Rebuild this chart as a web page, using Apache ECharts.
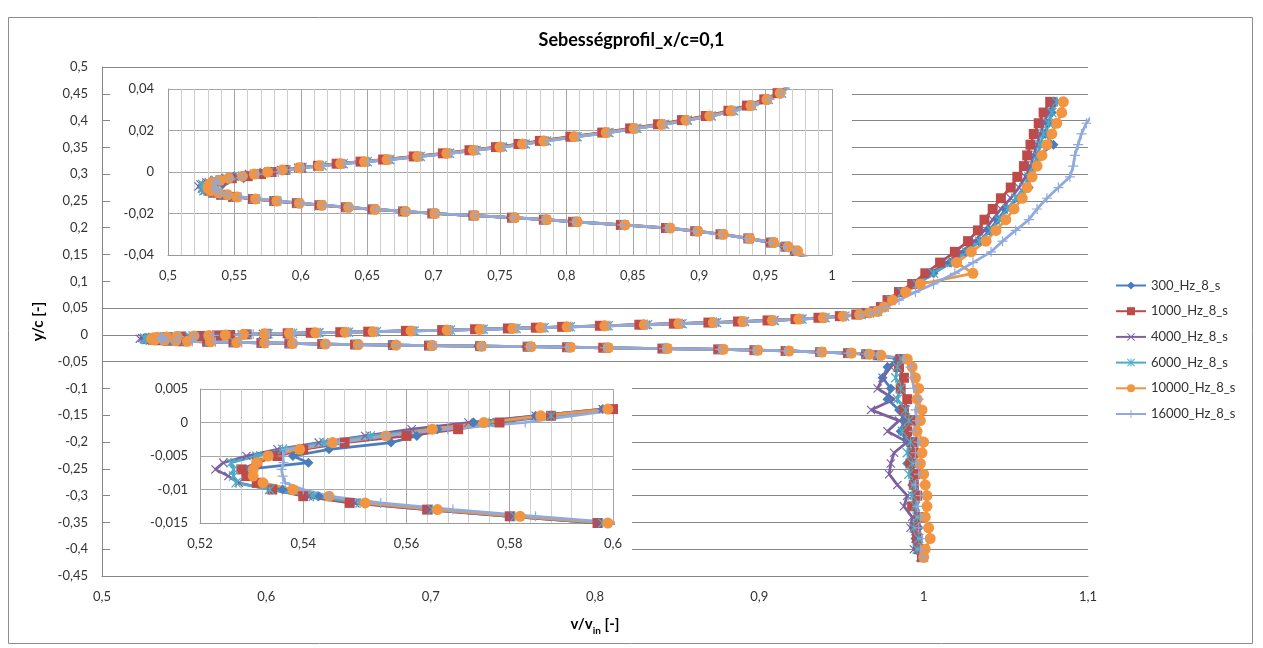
<!DOCTYPE html>
<html><head><meta charset="utf-8">
<script src="https://cdn.jsdelivr.net/npm/echarts@6/dist/echarts.min.js"></script>
<style>html,body{margin:0;padding:0;background:#fff}#c{width:1263px;height:648px}</style>
</head><body><div id="c"></div>
<script>
// traverse positions y/c (shared by all runs)
const yPos = [
0.435,0.415,0.395,0.375,0.355,0.335,0.315,0.295,0.275,0.255,0.235,0.215,0.195,0.175,0.155,0.135,0.115,0.095,0.08,0.065,0.052,
0.044,0.041,0.038,0.035,0.032,0.0295,0.027,0.025,0.023,0.021,0.019,0.017,0.015,0.0135,0.012,0.0105,0.009,0.0075,0.006,0.005,0.004,0.003,0.002,0.001,0,-0.001,-0.002,-0.003,-0.004,-0.005,-0.006,-0.007,
-0.008,-0.009,-0.01,-0.011,-0.012,-0.013,-0.014,-0.015,-0.016,-0.017,-0.018,-0.019,-0.02,-0.021,-0.022,-0.023,-0.024,-0.0255,-0.027,-0.0285,-0.03,-0.032,-0.034,-0.036,-0.038,
-0.045,-0.06,-0.08,-0.1,-0.12,-0.14,-0.16,-0.18,-0.2,-0.22,-0.24,-0.26,-0.28,-0.3,-0.32,-0.34,-0.36,-0.38,-0.4,-0.415];

const v300 = [
1.080,1.078,1.076,1.074,1.079,1.070,1.067,1.064,1.064,1.058,1.050,1.045,1.040,1.034,1.026,1.016,1.006,0.996,0.988,0.980,0.975,
0.971,0.966,0.960,0.951,0.938,0.924,0.907,0.889,0.870,0.850,0.829,0.805,0.781,0.766,0.748,0.729,0.709,0.687,0.663,0.647,0.628,0.613,0.598,0.585,0.573,0.566,0.562,0.557,0.545,0.538,0.541,0.529,
0.530,0.532,0.536,0.543,0.552,0.566,0.582,0.599,0.616,0.636,0.656,0.679,0.701,0.729,0.758,0.783,0.806,0.842,0.876,0.897,0.916,0.936,0.953,0.964,0.971,
0.984,0.978,0.975,0.980,0.978,0.985,0.988,0.986,0.990,0.992,0.990,0.994,0.993,0.995,0.994,0.996,0.997,0.995,0.996,0.999];
const v1000 = [
1.077,1.073,1.070,1.067,1.065,1.063,1.061,1.057,1.053,1.047,1.042,1.037,1.033,1.027,1.019,1.010,1.001,0.993,0.985,0.978,0.974,
0.970,0.965,0.959,0.949,0.936,0.922,0.905,0.887,0.869,0.848,0.827,0.803,0.780,0.764,0.747,0.727,0.707,0.685,0.662,0.645,0.627,0.613,0.600,0.588,0.578,0.570,0.560,0.548,0.540,0.535,0.531,0.528,
0.529,0.531,0.534,0.540,0.549,0.564,0.580,0.597,0.614,0.634,0.654,0.677,0.699,0.730,0.759,0.783,0.805,0.841,0.875,0.897,0.916,0.937,0.954,0.965,0.972,
0.986,0.985,0.988,0.986,0.990,0.988,0.992,0.990,0.993,0.994,0.992,0.995,0.994,0.996,0.993,0.997,0.995,0.996,0.997,0.999];
const v4000 = [
1.079,1.076,1.073,1.071,1.069,1.067,1.065,1.062,1.058,1.053,1.047,1.042,1.037,1.031,1.023,1.014,1.004,0.994,0.986,0.979,0.975,
0.971,0.966,0.961,0.951,0.939,0.925,0.909,0.891,0.873,0.852,0.831,0.807,0.784,0.768,0.751,0.731,0.711,0.689,0.666,0.649,0.631,0.613,0.598,0.585,0.572,0.561,0.552,0.543,0.535,0.529,0.5245,0.523,
0.5255,0.5275,0.5335,0.541,0.550,0.564,0.580,0.597,0.614,0.635,0.655,0.678,0.701,0.731,0.761,0.785,0.808,0.844,0.878,0.899,0.918,0.938,0.956,0.966,0.973,
0.985,0.980,0.975,0.972,0.982,0.968,0.985,0.978,0.990,0.982,0.980,0.979,0.984,0.990,0.988,0.993,0.992,0.995,0.994,0.998];
const v6000 = [
1.081,1.078,1.076,1.073,1.071,1.069,1.067,1.064,1.061,1.056,1.051,1.046,1.041,1.034,1.026,1.017,1.006,0.996,0.987,0.980,0.976,
0.972,0.967,0.962,0.952,0.940,0.926,0.909,0.891,0.874,0.853,0.832,0.808,0.785,0.769,0.752,0.732,0.712,0.690,0.667,0.650,0.632,0.616,0.601,0.588,0.576,0.565,0.553,0.544,0.536,0.531,0.526,0.5265,
0.5265,0.527,0.5335,0.542,0.551,0.565,0.581,0.598,0.615,0.635,0.655,0.677,0.700,0.730,0.760,0.784,0.807,0.843,0.877,0.898,0.917,0.937,0.955,0.965,0.972,
0.987,0.984,0.983,0.986,0.984,0.989,0.991,0.987,0.992,0.990,0.993,0.991,0.994,0.993,0.995,0.996,0.994,0.997,0.996,1.000];
const v10000 = [
1.085,1.084,1.081,1.078,1.075,1.072,1.069,1.066,1.063,1.060,1.055,1.050,1.044,1.038,1.029,1.020,1.030,0.998,0.989,0.981,0.976,
0.972,0.967,0.961,0.951,0.939,0.924,0.908,0.890,0.872,0.851,0.830,0.806,0.783,0.767,0.750,0.730,0.710,0.688,0.665,0.648,0.630,0.614,0.599,0.586,0.575,0.565,0.556,0.5457,0.5393,0.5332,0.531,0.5303,
0.5303,0.5322,0.538,0.545,0.552,0.566,0.582,0.599,0.616,0.636,0.656,0.679,0.701,0.731,0.761,0.785,0.808,0.844,0.878,0.899,0.918,0.938,0.956,0.967,0.974,
0.990,0.993,0.995,0.997,0.996,0.999,0.998,0.996,1.000,0.999,0.998,1.000,1.001,1.002,1.002,1.001,1.003,1.004,1.001,1.000];
const v16000 = [
1.120,1.104,1.099,1.096,1.094,1.092,1.091,1.089,1.082,1.075,1.069,1.064,1.056,1.048,1.041,1.030,1.019,1.006,0.995,0.985,0.977,
0.973,0.968,0.962,0.953,0.941,0.927,0.910,0.892,0.874,0.853,0.832,0.809,0.786,0.770,0.753,0.733,0.713,0.691,0.668,0.651,0.633,0.617,0.602,0.592,0.583,0.568,0.556,0.547,0.5367,0.536,0.5362,0.5358,
0.536,0.5365,0.540,0.545,0.555,0.569,0.585,0.601,0.618,0.637,0.657,0.680,0.702,0.731,0.760,0.783,0.806,0.842,0.876,0.897,0.916,0.936,0.954,0.965,0.972,
0.988,0.992,0.993,0.994,0.997,0.995,0.996,0.994,0.997,0.995,0.996,0.997,0.995,0.998,0.996,0.998,0.997,0.999,0.998,1.000];

const seriesNames = ['300_Hz_8_s','1000_Hz_8_s','4000_Hz_8_s','6000_Hz_8_s','10000_Hz_8_s','16000_Hz_8_s'];
const seriesValues = [v300, v1000, v4000, v6000, v10000, v16000];

// axis ticks [min, max, step]
const mainXTicks = [0.5, 1.1, 0.1];
const mainYTicks = [-0.45, 0.5, 0.05];
const inset1XTicks = [0.5, 1, 0.05];
const inset1YTicks = [-0.04, 0.04, 0.02];
const inset2XTicks = [0.52, 0.6, 0.02];
const inset2YTicks = [-0.015, 0.005, 0.005];

const FONT = 'Lato, "Liberation Sans", sans-serif';
const colors = ['#4A7EBB','#BE4B48','#7D60A0','#4BACC6','#F39440','#8FAADC'];
const X_PATH = 'path://M0,0.9L0.9,0L5,4.1L9.1,0L10,0.9L5.9,5L10,9.1L9.1,10L5,5.9L0.9,10L0,9.1L4.1,5Z';
const STAR_PATH = 'path://M0,0.9L0.9,0L5,4.1L9.1,0L10,0.9L5.9,5L10,9.1L9.1,10L5,5.9L0.9,10L0,9.1L4.1,5Z M4.4,0L5.6,0L5.6,10L4.4,10Z';
const PLUS_PATH = 'path://M4.4,0H5.6V4.4H10V5.6H5.6V10H4.4V5.6H0V4.4H4.4Z';
const symbols = ['diamond','rect',X_PATH,STAR_PATH,'circle',PLUS_PATH];
const symSizes = [10,10,9,10,11,10];

function fmt(v){
  let s = (Math.round(v*100000)/100000).toString();
  if (s === '-0') s = '0';
  return s.replace('.', ',');
}
const lbl = {color:'#333', fontFamily:FONT, fontSize:13, formatter: fmt};

function mkData(vals){ return vals.map((v,i)=>[v, yPos[i]]); }

const series = [];
for (let g = 0; g < 3; g++) {
  for (let s = 0; s < seriesNames.length; s++) {
    series.push({
      type:'line', name:seriesNames[s], xAxisIndex:g, yAxisIndex:g,
      data: mkData(seriesValues[s]),
      symbol: symbols[s], symbolSize: symSizes[s], showSymbol:true,
      lineStyle:{width:2.75, color:colors[s]},
      itemStyle:{color:colors[s], borderWidth:0},
      z: g === 0 ? 2 : 8, clip:true, animation:false
    });
  }
}

function axis(ticks, grid, opts){
  return Object.assign({
    type:'value', gridIndex:grid, min:ticks[0], max:ticks[1], interval:ticks[2],
    axisLabel:Object.assign({}, lbl), axisTick:{show:false},
    axisLine:{show:true, onZero:false, lineStyle:{color:'#868686', width:1}},
    splitLine:{show:false}
  }, opts);
}

const option = {
  animation:false,
  backgroundColor:'#fff',
  title:{text:'Sebességprofil_x/c=0,1', left:'center', top:26,
    textStyle:{fontFamily:FONT, fontSize:18, fontWeight:'bold', color:'#000'}},
  legend:{
    data:seriesNames, orient:'vertical', left:1110, top:274, itemGap:12.7,
    itemWidth:30, itemHeight:10,
    textStyle:{fontFamily:FONT, fontSize:13, color:'#333'}
  },
  grid:[
    {left:102, top:67, width:986, height:509},
    {left:168, top:89, width:664, height:166, z:6},
    {left:200, top:389, width:413, height:134, z:6}
  ],
  xAxis:[
    axis(mainXTicks, 0, {
      axisLabel:Object.assign({}, lbl, {margin:14}),
      name:'{b|v/v}{s|in}{b| [-]}', nameLocation:'middle', nameGap:36,
      nameTextStyle:{rich:{
        b:{fontFamily:FONT, fontSize:15, fontWeight:'bold', color:'#000', lineHeight:20, verticalAlign:'bottom'},
        s:{fontFamily:FONT, fontSize:10, fontWeight:'bold', color:'#000', lineHeight:20, verticalAlign:'bottom', padding:[0,0,-4,0]}
      }}
    }),
    axis(inset1XTicks, 1, {
      z:7, axisLabel:Object.assign({}, lbl, {margin:14}),
      axisLine:{show:true, onZero:false, lineStyle:{color:'#9a9a9a'}},
      splitLine:{show:true, lineStyle:{color:'#a6a6a6', width:1}},
      minorTick:{show:false, splitNumber:5},
      minorSplitLine:{show:true, lineStyle:{color:'#cfcfcf', width:1}}
    }),
    axis(inset2XTicks, 2, {
      z:7, axisLabel:Object.assign({}, lbl, {margin:14}),
      axisLine:{show:true, onZero:false, lineStyle:{color:'#9a9a9a'}},
      splitLine:{show:true, lineStyle:{color:'#a6a6a6', width:1}},
      minorTick:{show:false, splitNumber:5},
      minorSplitLine:{show:true, lineStyle:{color:'#cfcfcf', width:1}}
    })
  ],
  yAxis:[
    axis(mainYTicks, 0, {
      axisLabel:Object.assign({}, lbl, {margin:14}),
      splitLine:{show:true, lineStyle:{color:'#868686', width:1}},
      name:'y/c [-]', nameLocation:'middle', nameGap:56, nameRotate:90,
      nameTextStyle:{fontFamily:FONT, fontSize:15, fontWeight:'bold', color:'#000'}
    }),
    axis(inset1YTicks, 1, {
      z:7, axisLabel:Object.assign({}, lbl, {margin:14}),
      axisLine:{show:true, onZero:false, lineStyle:{color:'#9a9a9a'}},
      splitLine:{show:true, lineStyle:{color:'#a6a6a6', width:1}}
    }),
    axis(inset2YTicks, 2, {
      z:7, axisLabel:Object.assign({}, lbl, {margin:12}),
      axisLine:{show:true, onZero:false, lineStyle:{color:'#9a9a9a'}},
      splitLine:{show:true, lineStyle:{color:'#a6a6a6', width:1}}
    })
  ],
  graphic:[
    {type:'rect', z:1, silent:true, shape:{x:8.5, y:17.5, width:1244, height:626},
      style:{fill:'none', stroke:'#8c8c8c', lineWidth:1}},
    {type:'rect', z:5, silent:true, shape:{x:110, y:71, width:742, height:225}, style:{fill:'#fff'}},
    {type:'rect', z:5, silent:true, shape:{x:110, y:370, width:522, height:196}, style:{fill:'#fff'}}
  ],
  series: series
};

const chart = echarts.init(document.getElementById('c'), null, {renderer:'canvas'});
chart.setOption(option);
</script>
</body></html>
